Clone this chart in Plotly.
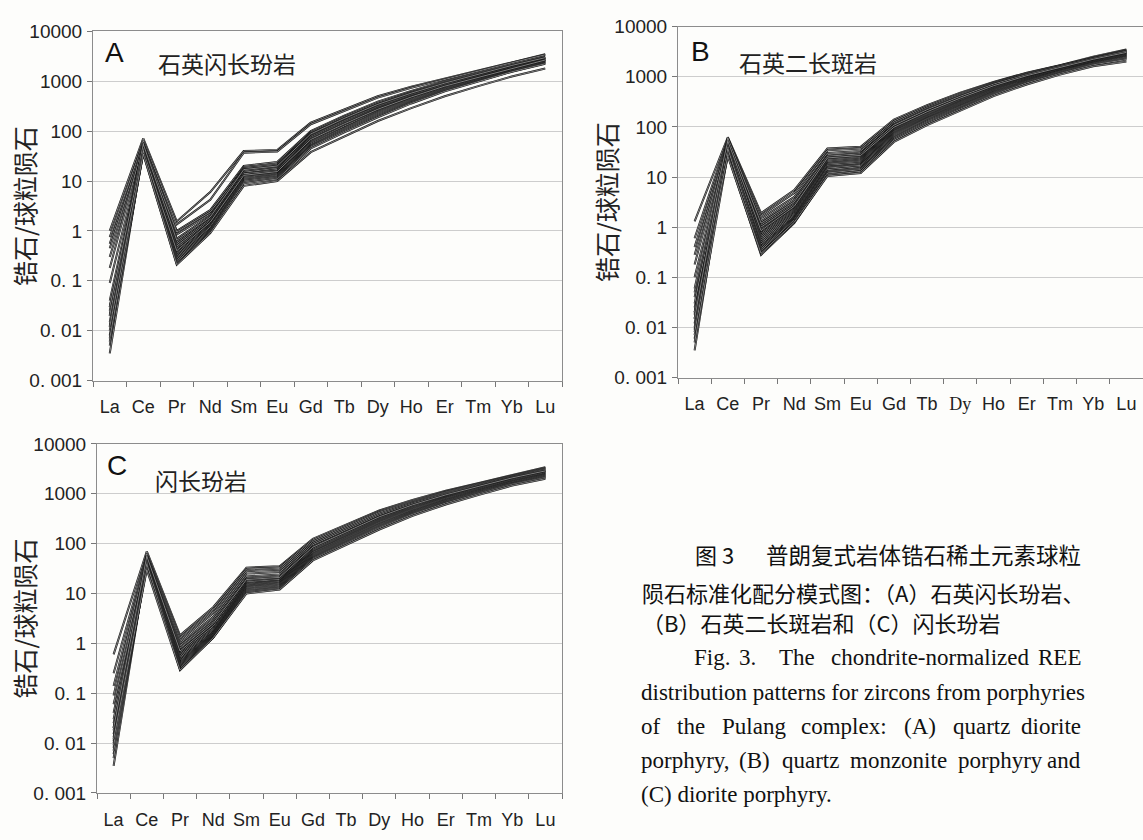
import plotly.graph_objects as go

# Chondrite-normalized REE patterns of zircons, Pulang complex
ree = ["La", "Ce", "Pr", "Nd", "Sm", "Eu", "Gd", "Tb", "Dy", "Ho", "Er", "Tm", "Yb", "Lu"]
ree_labels_b = ["La", "Ce", "Pr", "Nd", "Sm", "Eu", "Gd", "Tb",
                '<span style="font-family:\'Liberation Serif\'">Dy</span>',
                "Ho", "Er", "Tm", "Yb", "Lu"]
y_tickvals = [0.001, 0.01, 0.1, 1, 10, 100, 1000, 10000]
y_ticktext = ["0. 001", "0. 01", "0. 1", "1", "10", "100", "1000", "10000"]

# (A) quartz diorite porphyry
quartz_diorite = [
    [1.0, 72, 1.55, 6.0, 40, 42, 148, 270, 500, 780, 1150, 1650, 2400, 3500],
    [0.55, 65, 1.35, 4.2, 37, 39, 138, 255, 470, 740, 1100, 1600, 2350, 3400],
    [0.75, 58, 1.0, 2.6, 20, 24, 100, 205, 390, 640, 1000, 1450, 2150, 3100],
    [0.45, 52, 0.85, 2.2, 19, 22, 95, 195, 370, 610, 960, 1400, 2100, 3000],
    [0.3, 48, 0.7, 2.0, 18, 21, 90, 185, 350, 590, 930, 1380, 2050, 2950],
    [0.18, 55, 0.95, 2.4, 17, 20, 85, 175, 335, 570, 900, 1350, 2000, 2900],
    [0.09, 45, 0.6, 1.8, 16, 19, 80, 165, 320, 550, 880, 1320, 1950, 2850],
    [0.012, 50, 0.55, 1.7, 15, 18, 78, 160, 310, 530, 860, 1300, 1950, 2800],
    [0.005, 47, 0.5, 1.6, 14, 17, 74, 152, 295, 510, 830, 1260, 1900, 2750],
    [0.03, 53, 0.45, 1.5, 14, 16, 70, 145, 285, 495, 810, 1230, 1850, 2700],
    [0.008, 42, 0.42, 1.4, 13, 15, 66, 138, 272, 480, 790, 1200, 1820, 2650],
    [0.04, 48, 0.38, 1.35, 12.5, 14.5, 63, 132, 262, 465, 770, 1180, 1780, 2600],
    [0.0035, 44, 0.35, 1.3, 12, 14, 60, 126, 250, 450, 750, 1150, 1750, 2550],
    [0.02, 50, 0.32, 1.25, 11.5, 13.5, 58, 120, 240, 435, 730, 1120, 1720, 2500],
    [0.01, 40, 0.3, 1.2, 11, 13, 55, 115, 230, 420, 710, 1100, 1680, 2450],
    [0.025, 46, 0.28, 1.1, 10.5, 12.5, 52, 110, 220, 405, 690, 1080, 1650, 2400],
    [0.006, 38, 0.26, 1.05, 10, 12, 50, 105, 210, 390, 670, 1050, 1620, 2350],
    [0.015, 43, 0.24, 1.0, 9.5, 11.5, 48, 100, 200, 375, 650, 1020, 1580, 2300],
    [0.007, 36, 0.22, 0.95, 9, 11, 45, 95, 190, 360, 630, 1000, 1550, 2250],
    [0.02, 55, 0.65, 1.9, 17, 20, 88, 180, 345, 580, 920, 1380, 2080, 2980],
    [0.03, 40, 0.4, 1.5, 13, 15.5, 68, 140, 275, 485, 800, 1210, 1830, 2680],
    [0.012, 35, 0.21, 0.9, 8.0, 10, 38, 78, 160, 290, 500, 800, 1250, 1800],
]

# (B) quartz monzonite porphyry
quartz_monzonite = [
    [1.3, 62, 1.9, 5.5, 37, 40, 140, 270, 480, 790, 1200, 1700, 2500, 3500],
    [0.6, 58, 1.7, 4.8, 34, 37, 130, 255, 460, 770, 1180, 1680, 2450, 3400],
    [0.4, 55, 1.5, 4.0, 30, 33, 120, 240, 440, 750, 1150, 1650, 2400, 3300],
    [0.28, 50, 1.3, 3.5, 27, 30, 112, 228, 420, 725, 1120, 1620, 2350, 3250],
    [0.18, 52, 1.1, 3.0, 25, 28, 105, 215, 400, 700, 1090, 1580, 2300, 3150],
    [0.1, 45, 1.0, 2.8, 23, 26, 100, 205, 385, 675, 1060, 1550, 2250, 3100],
    [0.006, 48, 0.9, 2.5, 22, 25, 96, 198, 370, 655, 1040, 1520, 2200, 3000],
    [0.015, 42, 0.8, 2.3, 21, 24, 92, 190, 355, 635, 1010, 1490, 2150, 2950],
    [0.04, 55, 0.75, 2.2, 20, 23, 88, 182, 342, 615, 990, 1460, 2120, 2900],
    [0.009, 40, 0.7, 2.1, 19, 22, 85, 176, 330, 600, 970, 1440, 2080, 2850],
    [0.0035, 47, 0.65, 2.0, 18.5, 21, 82, 170, 320, 585, 950, 1410, 2050, 2800],
    [0.025, 38, 0.6, 1.9, 18, 20, 80, 165, 310, 570, 930, 1390, 2020, 2750],
    [0.007, 44, 0.55, 1.8, 17, 19, 77, 160, 300, 555, 910, 1370, 2000, 2700],
    [0.03, 50, 0.5, 1.7, 16, 18, 74, 155, 290, 540, 890, 1340, 1970, 2650],
    [0.012, 36, 0.46, 1.6, 15.5, 17.5, 71, 150, 280, 525, 870, 1320, 1940, 2600],
    [0.05, 42, 0.42, 1.55, 15, 17, 68, 145, 272, 510, 850, 1300, 1900, 2550],
    [0.01, 33, 0.4, 1.5, 14, 16, 65, 140, 264, 495, 830, 1270, 1870, 2500],
    [0.02, 40, 0.37, 1.45, 13, 15, 62, 134, 255, 480, 810, 1250, 1840, 2450],
    [0.008, 30, 0.34, 1.4, 12.5, 14.5, 60, 128, 245, 465, 790, 1220, 1800, 2400],
    [0.018, 37, 0.31, 1.3, 12, 14, 57, 122, 235, 450, 770, 1190, 1760, 2300],
    [0.005, 28, 0.28, 1.2, 11, 13, 54, 116, 225, 435, 750, 1160, 1720, 2200],
    [0.02, 26, 0.3, 1.25, 10.5, 12, 50, 108, 210, 410, 700, 1100, 1620, 2000],
    [0.015, 60, 1.2, 3.2, 26, 29, 108, 220, 408, 710, 1100, 1600, 2320, 3200],
    [0.06, 52, 0.85, 2.6, 24, 27, 98, 200, 375, 660, 1050, 1530, 2230, 3050],
]

# (C) diorite porphyry
diorite = [
    [0.6, 70, 1.45, 5.3, 33, 35, 125, 240, 460, 750, 1150, 1650, 2400, 3400],
    [0.25, 62, 1.3, 4.6, 31, 33, 118, 228, 440, 720, 1110, 1600, 2330, 3300],
    [0.14, 58, 1.15, 4.0, 28, 30, 110, 215, 420, 695, 1080, 1560, 2280, 3200],
    [0.09, 55, 1.0, 3.4, 25, 27, 102, 200, 395, 665, 1040, 1520, 2220, 3100],
    [0.006, 50, 0.9, 3.0, 22, 24, 95, 188, 372, 635, 1000, 1470, 2160, 3000],
    [0.02, 53, 0.8, 2.7, 20, 22, 88, 175, 350, 605, 960, 1420, 2100, 2900],
    [0.011, 46, 0.72, 2.4, 18, 20, 82, 165, 330, 580, 925, 1380, 2040, 2800],
    [0.04, 50, 0.65, 2.2, 17, 19, 78, 158, 318, 560, 900, 1350, 2000, 2750],
    [0.0035, 44, 0.6, 2.0, 16, 18, 74, 150, 305, 540, 870, 1310, 1950, 2680],
    [0.025, 48, 0.56, 1.9, 15.5, 17.5, 71, 145, 295, 525, 850, 1280, 1910, 2620],
    [0.008, 42, 0.52, 1.8, 15, 17, 68, 140, 285, 510, 830, 1250, 1870, 2560],
    [0.015, 47, 0.48, 1.7, 14.5, 16.5, 66, 135, 275, 495, 810, 1220, 1830, 2500],
    [0.03, 40, 0.45, 1.65, 14, 16, 63, 130, 265, 480, 790, 1190, 1790, 2450],
    [0.005, 45, 0.42, 1.6, 13.5, 15.5, 61, 126, 255, 465, 770, 1160, 1760, 2400],
    [0.018, 38, 0.4, 1.55, 13, 15, 59, 122, 245, 450, 750, 1140, 1720, 2350],
    [0.01, 43, 0.38, 1.5, 12.5, 14.5, 57, 118, 238, 438, 730, 1110, 1690, 2300],
    [0.007, 36, 0.36, 1.45, 12, 14, 55, 114, 230, 425, 710, 1090, 1650, 2250],
    [0.013, 41, 0.34, 1.4, 11.5, 13.5, 53, 110, 222, 410, 690, 1060, 1620, 2200],
    [0.009, 34, 0.32, 1.35, 11, 13, 51, 106, 214, 398, 670, 1030, 1580, 2150],
    [0.06, 39, 0.3, 1.3, 10.5, 12.5, 49, 102, 205, 385, 650, 1000, 1540, 2100],
    [0.012, 30, 0.29, 1.3, 10, 12, 46, 95, 192, 360, 610, 950, 1460, 2000],
    [0.02, 56, 0.7, 2.5, 19, 21, 85, 172, 345, 598, 950, 1410, 2080, 2870],
]

W, H = 1143, 840


def fx(x):
    return x / W


def fy(y):
    return 1 - y / H


# panel frames in pixels: left, right, top, bottom
panels = [
    dict(name="", data=quartz_diorite, box=(93, 562, 22, 380), letter="A",
         title="石英闪长玢岩", letter_xy=(114, 44), title_x=156, title_y=54,
         ytitle_x=24, labels=ree, right_frame=True),
    dict(name="2", data=quartz_monzonite, box=(678, 1145, 17, 377), letter="B",
         title="石英二长斑岩", letter_xy=(700, 43), title_x=737, title_y=53,
         ytitle_x=606, labels=ree_labels_b, right_frame=False),
    dict(name="3", data=diorite, box=(97, 562, 445, 803), letter="C",
         title="闪长玢岩", letter_xy=(117, 467), title_x=153, title_y=482,
         ytitle_x=24, labels=ree, right_frame=True),
]

fig = go.Figure()
text_font = "Liberation Sans, Arial, sans-serif"
cjk_font = "Noto Sans CJK SC, sans-serif"
annotations = []
layout_axes = {}

for p in panels:
    xa = "x" + p["name"]
    ya = "y" + p["name"]
    for row in p["data"]:
        # each pattern is drawn as a dark outline with a pale core
        fig.add_trace(go.Scatter(x=ree, y=row, mode="lines", xaxis=xa, yaxis=ya,
                                 line=dict(color="#141414", width=2.0),
                                 hoverinfo="skip", showlegend=False))
        fig.add_trace(go.Scatter(x=ree, y=row, mode="lines", xaxis=xa, yaxis=ya,
                                 line=dict(color="#c8c8c8", width=0.6),
                                 hoverinfo="skip", showlegend=False))
    left, right, top, bottom = p["box"]
    layout_axes["xaxis" + p["name"]] = dict(
        domain=[fx(left), min(fx(right), 1.0)], anchor=ya,
        type="category", categoryorder="array", categoryarray=ree,
        tickmode="array", tickvals=ree, ticktext=p["labels"], tickangle=0,
        range=[-0.5, 13.5], tickson="boundaries", ticks="outside", ticklen=5,
        tickcolor="#777777", showgrid=False, showline=True, linecolor="#8c8c8c",
        linewidth=1, mirror=True, ticklabelstandoff=10,
        tickfont=dict(family=text_font, size=18, color="#222222"))
    layout_axes["yaxis" + p["name"]] = dict(
        domain=[fy(bottom), fy(top)], anchor=xa, type="log", range=[-3, 4],
        tickmode="array", tickvals=y_tickvals, ticktext=y_ticktext,
        ticks="outside", ticklen=5, tickcolor="#777777", showgrid=True,
        gridcolor="#cdcdcd", gridwidth=1, showline=True, linecolor="#8c8c8c",
        linewidth=1, mirror=p["right_frame"], zeroline=False, ticklabelstandoff=1,
        tickfont=dict(family=text_font, size=19, color="#222222"))
    annotations.append(dict(x=fx(p["letter_xy"][0]), y=fy(p["letter_xy"][1]),
                            xref="paper", yref="paper", text=p["letter"],
                            showarrow=False, xanchor="center", yanchor="middle",
                            font=dict(family=text_font, size=28, color="#111111")))
    annotations.append(dict(x=fx(p["title_x"]), y=fy(p["title_y"]),
                            xref="paper", yref="paper", text=p["title"],
                            showarrow=False, xanchor="left", yanchor="middle",
                            font=dict(family=cjk_font, size=23, color="#222222")))
    annotations.append(dict(x=fx(p["ytitle_x"]), y=fy((top + bottom) / 2),
                            xref="paper", yref="paper", text="锆石/球粒陨石",
                            textangle=-90, showarrow=False, xanchor="center",
                            yanchor="middle",
                            font=dict(family=cjk_font, size=25, color="#222222")))

# figure caption (Chinese and English)
serif = "Liberation Serif, Times New Roman, serif"
cap_cn = 22
cap_en = 23
caption_items = [
    ("图 3", 693, 558, "left", cjk_font, cap_cn),
    ("普朗复式岩体锆石稀土元素球粒", 1083, 558, "right", cjk_font, 22.5),
    ("陨石标准化配分模式图：（A）石英闪长玢岩、", 640, 597, "left", cjk_font, cap_cn),
    ("（B）石英二长斑岩和（C）闪长玢岩", 640, 628, "left", cjk_font, cap_cn),
    ("Fig.", 692, 664, "left", serif, cap_en),
    ("3.", 737, 664, "left", serif, cap_en),
    ("The", 777, 664, "left", serif, cap_en),
    ("chondrite-normalized", 829, 664, "left", serif, cap_en),
    ("REE", 1083, 664, "right", serif, cap_en),
    ("distribution patterns for zircons from porphyries", 639, 700, "left", serif, cap_en),
    ("of", 639, 735, "left", serif, cap_en),
    ("the", 675, 735, "left", serif, cap_en),
    ("Pulang", 720, 735, "left", serif, cap_en),
    ("complex:", 799, 735, "left", serif, cap_en),
    ("(A)", 902, 735, "left", serif, cap_en),
    ("quartz", 951, 735, "left", serif, cap_en),
    ("diorite", 1083, 735, "right", serif, cap_en),
    ("porphyry,", 639, 770, "left", serif, cap_en),
    ("(B)", 737, 770, "left", serif, cap_en),
    ("quartz", 780, 770, "left", serif, cap_en),
    ("monzonite", 848, 770, "left", serif, cap_en),
    ("porphyry", 956, 770, "left", serif, cap_en),
    ("and", 1083, 770, "right", serif, cap_en),
    ("(C) diorite porphyry.", 639, 805, "left", serif, cap_en),
]
for text, x, y, anchor, family, size in caption_items:
    annotations.append(dict(x=fx(x), y=fy(y), xref="paper", yref="paper", text=text,
                            showarrow=False, xanchor=anchor, yanchor="middle",
                            font=dict(family=family, size=size, color="#111111")))

fig.update_layout(
    width=W, height=H, autosize=False,
    margin=dict(l=0, r=0, t=0, b=0),
    paper_bgcolor="#fdfdfb", plot_bgcolor="#fdfdfb",
    showlegend=False, annotations=annotations,
    **layout_axes,
)

fig.write_html("out.html")
